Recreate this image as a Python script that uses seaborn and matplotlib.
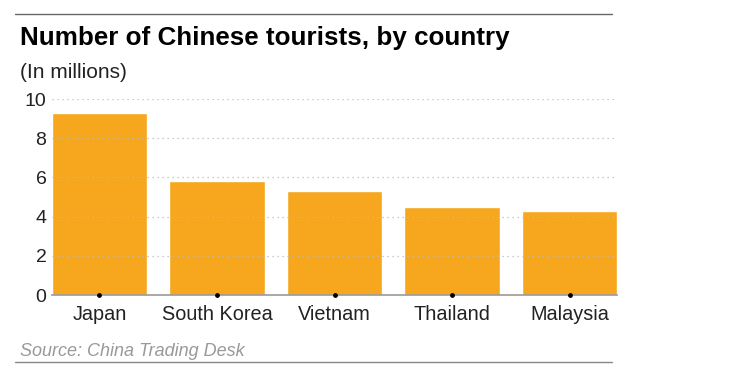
import pandas as pd
import matplotlib.pyplot as plt
import seaborn as sns

countries = ["Japan", "South Korea", "Vietnam", "Thailand", "Malaysia"]
tourists = [9.3, 5.8, 5.3, 4.5, 4.3]  # in millions
yticks = [0, 2, 4, 6, 8, 10]

df = pd.DataFrame({"country": countries, "tourists": tourists})

sns.set_theme(style="white")
plt.rcParams["font.family"] = ["Liberation Sans", "DejaVu Sans"]

fig = plt.figure(figsize=(7.3, 3.78), dpi=100)
ax = fig.add_axes([52 / 730, 1 - 295 / 378, 565 / 730, 196 / 378])

sns.barplot(data=df, x="country", y="tourists", color="#F6A71E", saturation=1,
            width=0.81, ax=ax, zorder=2)

ax.set_xlim(-0.404, 4.404)
ax.set_ylim(0, 10)
ax.set_yticks(yticks)
ax.set_yticklabels([str(t) for t in yticks], fontsize=14, color="#222222")
ax.tick_params(axis="y", length=0, pad=4)
ax.tick_params(axis="x", length=0, pad=7, labelsize=14.3, labelcolor="#222222")
ax.set_xlabel("")
ax.set_ylabel("")

# dotted gridlines drawn over the bars
for t in yticks[1:]:
    ax.axhline(t, color="#bbbbbb", lw=0.9, ls=(0, (1, 3)), zorder=3)

for s in ["top", "right", "left"]:
    ax.spines[s].set_visible(False)
ax.spines["bottom"].set_color("#999999")
ax.spines["bottom"].set_linewidth(1.2)
ax.spines["bottom"].set_zorder(4)

# small tick dots under each bar
ax.scatter(range(len(countries)), [0] * len(countries), s=6, color="black",
           zorder=5, clip_on=False)

fig.text(20 / 730, 1 - 38 / 378, "Number of Chinese tourists, by country",
         fontsize=18.7, fontweight="bold", va="center", ha="left", color="black")
fig.text(20 / 730, 1 - 73 / 378, "(In millions)", fontsize=15,
         va="center", ha="left", color="#222222")
fig.text(20 / 730, 1 - 352 / 378, "Source: China Trading Desk", fontsize=13,
         style="italic", va="center", ha="left", color="#999999")

fig.add_artist(plt.Line2D([15 / 730, 612 / 730], [1 - 14 / 378, 1 - 14 / 378],
                          color="#666666", lw=1))
fig.add_artist(plt.Line2D([15 / 730, 612 / 730], [1 - 362 / 378, 1 - 362 / 378],
                          color="#888888", lw=1))

fig.savefig("out.png", dpi=100)
